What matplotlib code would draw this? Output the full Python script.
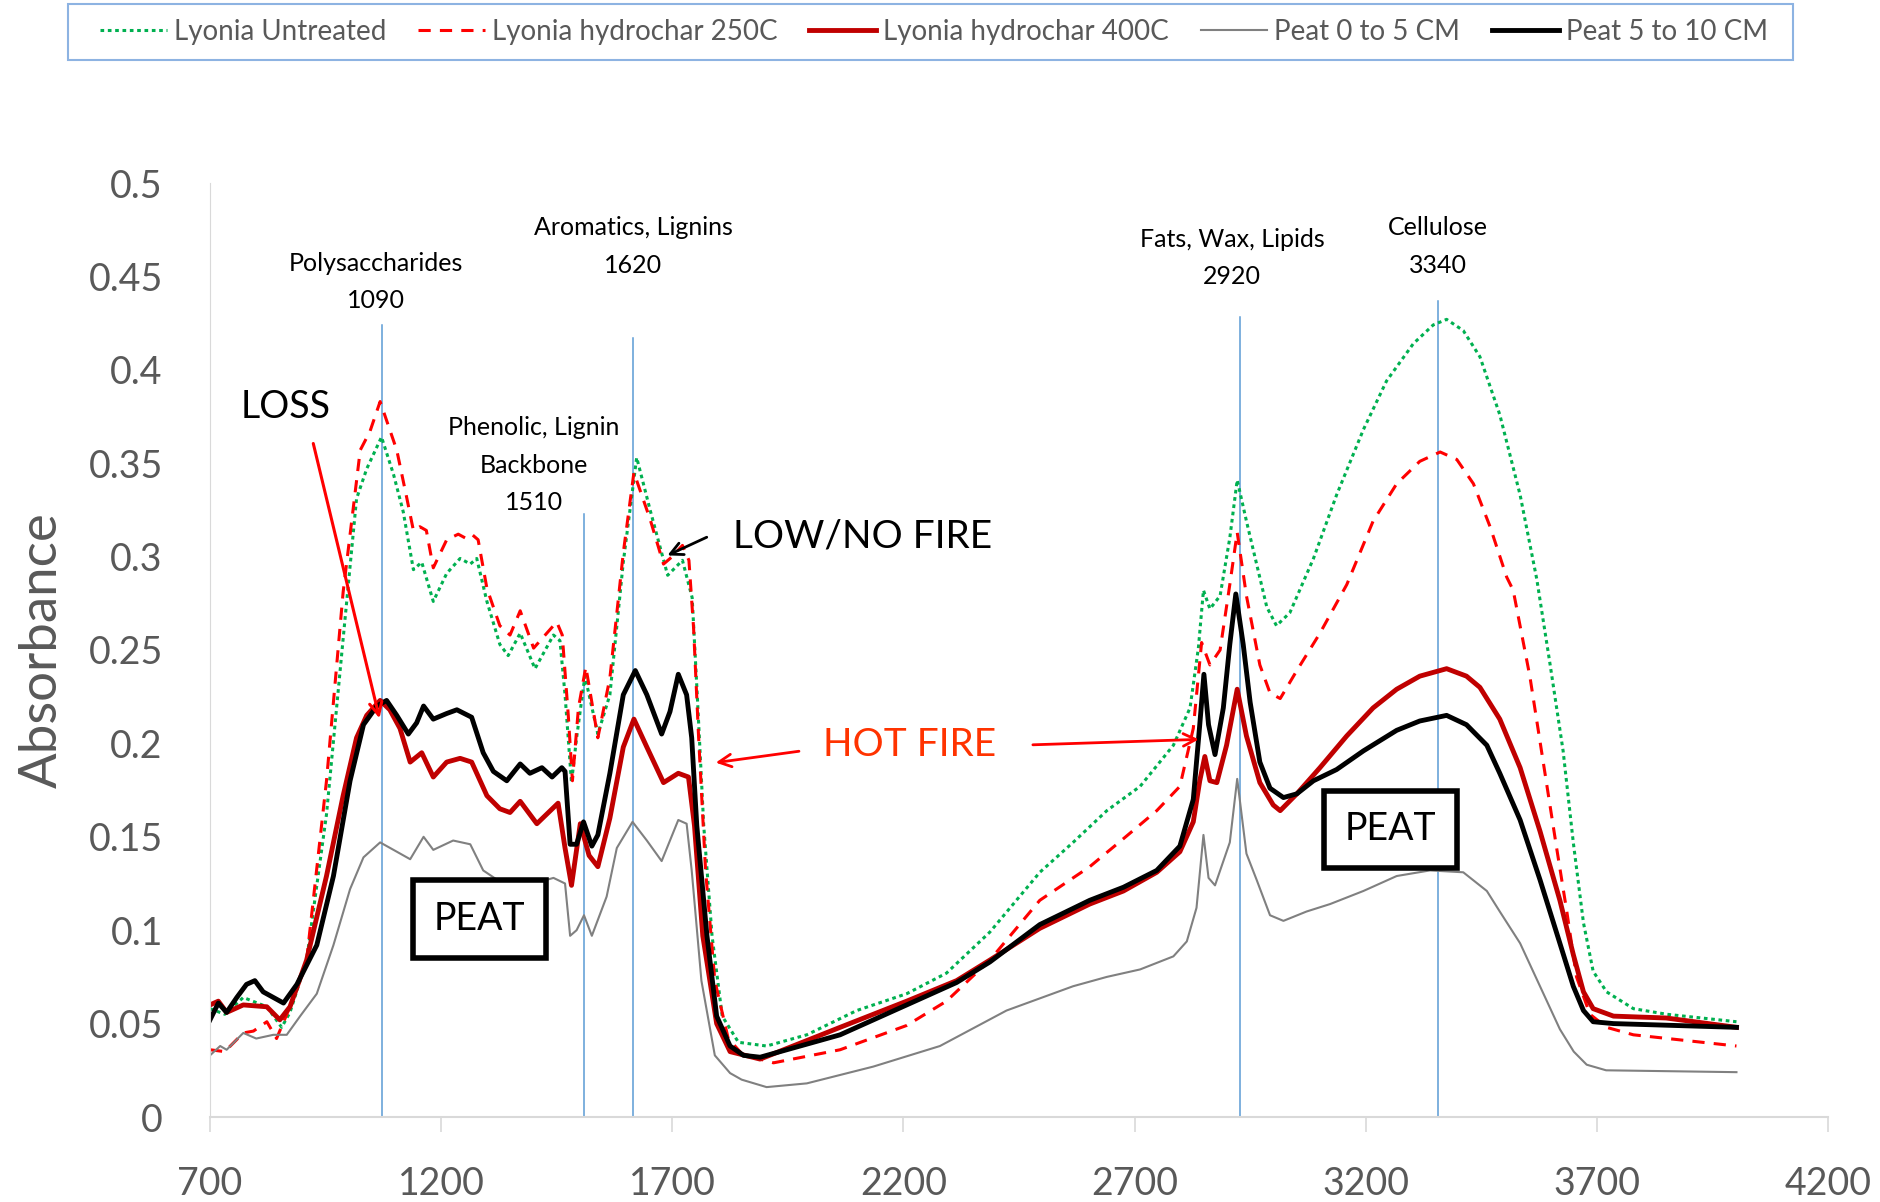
import matplotlib
matplotlib.use("Agg")
from matplotlib import pyplot as plt
from matplotlib.patches import Rectangle

# wavenumber / absorbance
untreated_x = [700, 732, 772, 823, 855, 873, 909, 952, 988, 1017, 1039, 1071, 1097, 1118, 1140, 1158, 1183, 1212,
               1241, 1263, 1277, 1299, 1327, 1345, 1371, 1403, 1443, 1457, 1468, 1482, 1493, 1511, 1539, 1565, 1594,
               1623, 1652, 1690, 1722, 1743, 1754, 1768, 1786, 1808, 1843, 1904, 1991, 2099, 2207, 2293, 2387, 2495,
               2567, 2640, 2712, 2784, 2820, 2838, 2849, 2863, 2885, 2906, 2922, 2942, 2964, 2986, 3007, 3036, 3087,
               3137, 3195, 3245, 3303, 3346, 3375, 3411, 3447, 3490, 3534, 3570, 3599, 3627, 3649, 3671, 3692, 3721,
               3779, 3851, 4002]
untreated_y = [0.058, 0.055, 0.064, 0.059, 0.048, 0.056, 0.084, 0.162, 0.256, 0.331, 0.347, 0.364, 0.344, 0.324,
               0.293, 0.297, 0.276, 0.291, 0.299, 0.296, 0.299, 0.276, 0.253, 0.247, 0.259, 0.240, 0.258, 0.255,
               0.226, 0.179, 0.203, 0.236, 0.205, 0.226, 0.297, 0.353, 0.325, 0.290, 0.298, 0.278, 0.226, 0.156,
               0.097, 0.054, 0.040, 0.038, 0.044, 0.057, 0.066, 0.077, 0.099, 0.131, 0.147, 0.164, 0.177, 0.199,
               0.219, 0.251, 0.282, 0.272, 0.279, 0.310, 0.341, 0.319, 0.296, 0.273, 0.263, 0.270, 0.299, 0.333,
               0.368, 0.394, 0.414, 0.424, 0.427, 0.421, 0.407, 0.376, 0.333, 0.288, 0.242, 0.196, 0.147, 0.104,
               0.078, 0.067, 0.058, 0.055, 0.051]

hc250_x = [700, 732, 772, 794, 823, 844, 873, 909, 952, 988, 1025, 1046, 1068, 1104, 1126, 1140, 1154, 1168, 1183,
           1212, 1237, 1252, 1266, 1280, 1299, 1327, 1349, 1371, 1400, 1450, 1462, 1475, 1484, 1497, 1513, 1539, 1565,
           1594, 1617, 1652, 1681, 1700, 1722, 1736, 1746, 1757, 1772, 1792, 1821, 1850, 1890, 1919, 2063, 2207, 2293,
           2387, 2495, 2603, 2676, 2748, 2798, 2827, 2845, 2863, 2885, 2906, 2922, 2942, 2971, 2993, 3015, 3051, 3101,
           3159, 3216, 3267, 3317, 3361, 3397, 3433, 3469, 3505, 3519, 3555, 3584, 3613, 3635, 3656, 3685, 3721, 3779,
           4002]
hc250_y = [0.036, 0.035, 0.045, 0.046, 0.051, 0.042, 0.059, 0.084, 0.180, 0.281, 0.357, 0.367, 0.383, 0.357, 0.331,
           0.314, 0.316, 0.314, 0.294, 0.309, 0.312, 0.310, 0.312, 0.309, 0.283, 0.263, 0.258, 0.271, 0.251, 0.265,
           0.258, 0.215, 0.180, 0.219, 0.241, 0.203, 0.235, 0.302, 0.345, 0.320, 0.296, 0.300, 0.306, 0.298, 0.262,
           0.203, 0.132, 0.073, 0.042, 0.034, 0.031, 0.029, 0.036, 0.049, 0.062, 0.084, 0.116, 0.134, 0.149, 0.164,
           0.177, 0.208, 0.254, 0.242, 0.250, 0.285, 0.313, 0.279, 0.242, 0.227, 0.224, 0.239, 0.259, 0.285, 0.319,
           0.339, 0.351, 0.356, 0.352, 0.339, 0.316, 0.289, 0.282, 0.236, 0.190, 0.144, 0.110, 0.075, 0.055, 0.048,
           0.044, 0.038]

hc400_x = [700, 718, 736, 772, 823, 851, 873, 909, 952, 988, 1017, 1039, 1068, 1089, 1111, 1133, 1158, 1183, 1212,
           1241, 1266, 1299, 1327, 1349, 1371, 1407, 1453, 1468, 1482, 1501, 1520, 1539, 1565, 1594, 1617, 1645, 1681,
           1713, 1735, 1748, 1766, 1796, 1825, 1890, 2063, 2207, 2315, 2387, 2495, 2603, 2676, 2748, 2798, 2827, 2841,
           2852, 2863, 2878, 2899, 2922, 2942, 2971, 3000, 3015, 3051, 3101, 3159, 3216, 3267, 3317, 3375, 3418, 3447,
           3490, 3534, 3577, 3620, 3649, 3671, 3692, 3736, 3850, 4002]
hc400_y = [0.060, 0.062, 0.056, 0.060, 0.059, 0.052, 0.059, 0.084, 0.129, 0.172, 0.203, 0.215, 0.223, 0.218, 0.208,
           0.190, 0.195, 0.182, 0.190, 0.192, 0.190, 0.172, 0.165, 0.163, 0.169, 0.157, 0.168, 0.144, 0.124, 0.157,
           0.140, 0.134, 0.160, 0.198, 0.213, 0.198, 0.179, 0.184, 0.182, 0.156, 0.097, 0.050, 0.035, 0.031, 0.048,
           0.062, 0.073, 0.084, 0.101, 0.114, 0.121, 0.131, 0.142, 0.158, 0.180, 0.193, 0.180, 0.179, 0.199, 0.229,
           0.204, 0.179, 0.167, 0.164, 0.173, 0.187, 0.204, 0.219, 0.229, 0.236, 0.240, 0.236, 0.230, 0.213, 0.187,
           0.153, 0.116, 0.087, 0.067, 0.058, 0.054, 0.053, 0.048]

peat05_x = [700, 722, 736, 772, 800, 837, 866, 895, 931, 967, 1003, 1032, 1068, 1097, 1133, 1162, 1183, 1226, 1263,
            1291, 1327, 1349, 1400, 1443, 1468, 1479, 1493, 1509, 1526, 1558, 1580, 1614, 1645, 1677, 1713, 1731,
            1742, 1763, 1792, 1825, 1850, 1904, 1991, 2135, 2279, 2423, 2567, 2640, 2712, 2784, 2813, 2834, 2849,
            2860, 2874, 2906, 2922, 2942, 2964, 2993, 3022, 3072, 3123, 3195, 3267, 3339, 3411, 3462, 3490, 3534,
            3577, 3620, 3650, 3678, 3720, 4002]
peat05_y = [0.033, 0.038, 0.036, 0.045, 0.042, 0.044, 0.044, 0.054, 0.066, 0.092, 0.122, 0.139, 0.147, 0.143, 0.138,
            0.150, 0.143, 0.148, 0.146, 0.132, 0.126, 0.126, 0.125, 0.128, 0.125, 0.097, 0.100, 0.108, 0.097, 0.118,
            0.144, 0.158, 0.148, 0.137, 0.159, 0.157, 0.132, 0.073, 0.033, 0.0235, 0.020, 0.016, 0.018, 0.027, 0.038,
            0.057, 0.070, 0.075, 0.079, 0.086, 0.094, 0.112, 0.151, 0.128, 0.124, 0.147, 0.181, 0.141, 0.127, 0.108,
            0.105, 0.110, 0.114, 0.121, 0.129, 0.132, 0.131, 0.121, 0.110, 0.093, 0.070, 0.047, 0.035, 0.028, 0.025,
            0.024]

peat510_x = [700, 718, 736, 758, 779, 797, 815, 859, 888, 931, 967, 1003, 1032, 1061, 1082, 1104, 1129, 1147, 1162,
             1183, 1212, 1234, 1266, 1291, 1313, 1342, 1371, 1392, 1418, 1440, 1461, 1468, 1479, 1493, 1508, 1526,
             1539, 1565, 1594, 1620, 1645, 1677, 1695, 1713, 1731, 1742, 1753, 1775, 1796, 1825, 1854, 1890, 2063,
             2207, 2315, 2387, 2495, 2603, 2676, 2748, 2798, 2827, 2841, 2850, 2860, 2874, 2892, 2906, 2919, 2935,
             2950, 2971, 2993, 3022, 3051, 3087, 3137, 3195, 3267, 3317, 3375, 3418, 3462, 3490, 3534, 3577, 3620,
             3649, 3671, 3692, 3736, 4002]
peat510_y = [0.052, 0.061, 0.056, 0.064, 0.071, 0.073, 0.067, 0.061, 0.071, 0.092, 0.129, 0.180, 0.210, 0.220, 0.223,
             0.215, 0.205, 0.211, 0.220, 0.213, 0.216, 0.218, 0.214, 0.195, 0.185, 0.180, 0.189, 0.184, 0.187, 0.182,
             0.187, 0.185, 0.146, 0.146, 0.158, 0.145, 0.151, 0.184, 0.226, 0.239, 0.226, 0.205, 0.217, 0.237, 0.226,
             0.203, 0.156, 0.097, 0.054, 0.038, 0.033, 0.032, 0.044, 0.060, 0.072, 0.083, 0.103, 0.116, 0.123, 0.132,
             0.145, 0.170, 0.210, 0.237, 0.210, 0.194, 0.219, 0.253, 0.280, 0.253, 0.222, 0.190, 0.176, 0.171, 0.173,
             0.180, 0.186, 0.196, 0.207, 0.212, 0.215, 0.210, 0.199, 0.184, 0.159, 0.127, 0.093, 0.070, 0.057, 0.051,
             0.050, 0.048]

# band marker lines (where they sit on the chart, and how high they go)
band_x = [1073, 1509, 1614, 2927, 3357]
band_top = [0.424, 0.323, 0.417, 0.428, 0.437]
band_labels = ["Polysaccharides\n1090", "Phenolic, Lignin\nBackbone\n1510", "Aromatics, Lignins\n1620",
               "Fats, Wax, Lipids\n2920", "Cellulose\n3340"]
band_label_x = [1058, 1400, 1615, 2911, 3357]
band_label_y = [0.447, 0.349, 0.466, 0.460, 0.466]

FONT = "Lato"
GREY_TXT = "#595959"
plt.rcParams['font.family'] = [FONT, 'DejaVu Sans']

fig = plt.figure(figsize=(18.8, 12.02), dpi=100)
ax = fig.add_axes([210/1880, 1 - 1117/1202, 1618/1880, 934/1202])

ax.plot(untreated_x, untreated_y, color="#00B050", lw=2.2, ls=(0, (1.2, 1.2)), label="Lyonia Untreated")
ax.plot(hc250_x, hc250_y, color="#FF0000", lw=2.2, ls=(0, (4, 3)), label="Lyonia hydrochar 250C")
ax.plot(hc400_x, hc400_y, color="#C00000", lw=3.5, label="Lyonia hydrochar 400C")
ax.plot(peat05_x, peat05_y, color="#808080", lw=1.5, label="Peat 0 to 5 CM")
ax.plot(peat510_x, peat510_y, color="#000000", lw=3.5, label="Peat 5 to 10 CM")

# band lines + labels
for bx, bt in zip(band_x, band_top):
    ax.plot([bx, bx], [0, bt], color="#5B9BD5", lw=1.1, zorder=1)
for txt, lx, ly in zip(band_labels, band_label_x, band_label_y):
    ax.text(lx, ly, txt, ha="center", va="center", fontsize=18, color="black", linespacing=1.75)

# callouts
arrow = "->,head_length=0.9,head_width=0.45"
ax.text(863, 0.380, "LOSS", ha="center", va="center", fontsize=27, color="black")
ax.annotate("", xy=(1068, 0.212), xytext=(922, 0.362),
            arrowprops=dict(arrowstyle=arrow, color="#FF0000", lw=2.2))
ax.text(2111, 0.311, "LOW/NO FIRE", ha="center", va="center", fontsize=28, color="black")
ax.annotate("", xy=(1684, 0.300), xytext=(1780, 0.311),
            arrowprops=dict(arrowstyle=arrow, color="black", lw=2))
ax.text(2214, 0.199, "HOT FIRE", ha="center", va="center", fontsize=28, color="#FF3300")
ax.annotate("", xy=(1788, 0.1895), xytext=(1980, 0.196),
            arrowprops=dict(arrowstyle=arrow, color="#FF0000", lw=2))
ax.annotate("", xy=(2845, 0.2022), xytext=(2474, 0.1992),
            arrowprops=dict(arrowstyle=arrow, color="#FF0000", lw=2))
for px_, py_ in [(1283, 0.106), (3254, 0.154)]:
    ax.text(px_, py_, "PEAT", ha="center", va="center", fontsize=27, color="black",
            bbox=dict(boxstyle="square,pad=0.55", fc="white", ec="black", lw=4))

ax.set_xlim(700, 4200)
ax.set_ylim(0, 0.5)
ax.set_xticks(range(700, 4201, 500))
ax.set_yticks([0, 0.05, 0.1, 0.15, 0.2, 0.25, 0.3, 0.35, 0.4, 0.45, 0.5])
ax.set_yticklabels(["0", "0.05", "0.1", "0.15", "0.2", "0.25", "0.3", "0.35", "0.4", "0.45", "0.5"])
ax.tick_params(axis="y", length=0, pad=34, labelsize=27, labelcolor=GREY_TXT)
ax.tick_params(axis="x", length=11, width=1.2, color="#D9D9D9", pad=24, labelsize=27, labelcolor=GREY_TXT)
for s in ["top", "right"]:
    ax.spines[s].set_visible(False)
ax.spines["left"].set_color("#D9D9D9")
ax.spines["bottom"].set_color("#D9D9D9")
ax.spines["bottom"].set_linewidth(1.5)
ax.set_ylabel("Absorbance", fontsize=38, color=GREY_TXT)
ax.yaxis.set_label_coords(-0.089, 0.5)

# legend box at the top, drawn separately so entries keep their natural spacing
fig.patches.append(Rectangle((68/1880, 1 - 60/1202), 1725/1880, 56/1202, transform=fig.transFigure,
                             fill=False, edgecolor="#8DB3E2", lw=1.5))
fig.legend(loc="center", bbox_to_anchor=(934/1880, 1 - 32/1202), ncol=5, fontsize=20, frameon=False,
           handlelength=2.4, handletextpad=0.25, columnspacing=1.15, borderaxespad=0, labelcolor=GREY_TXT)

fig.savefig("out.png", dpi=100)
